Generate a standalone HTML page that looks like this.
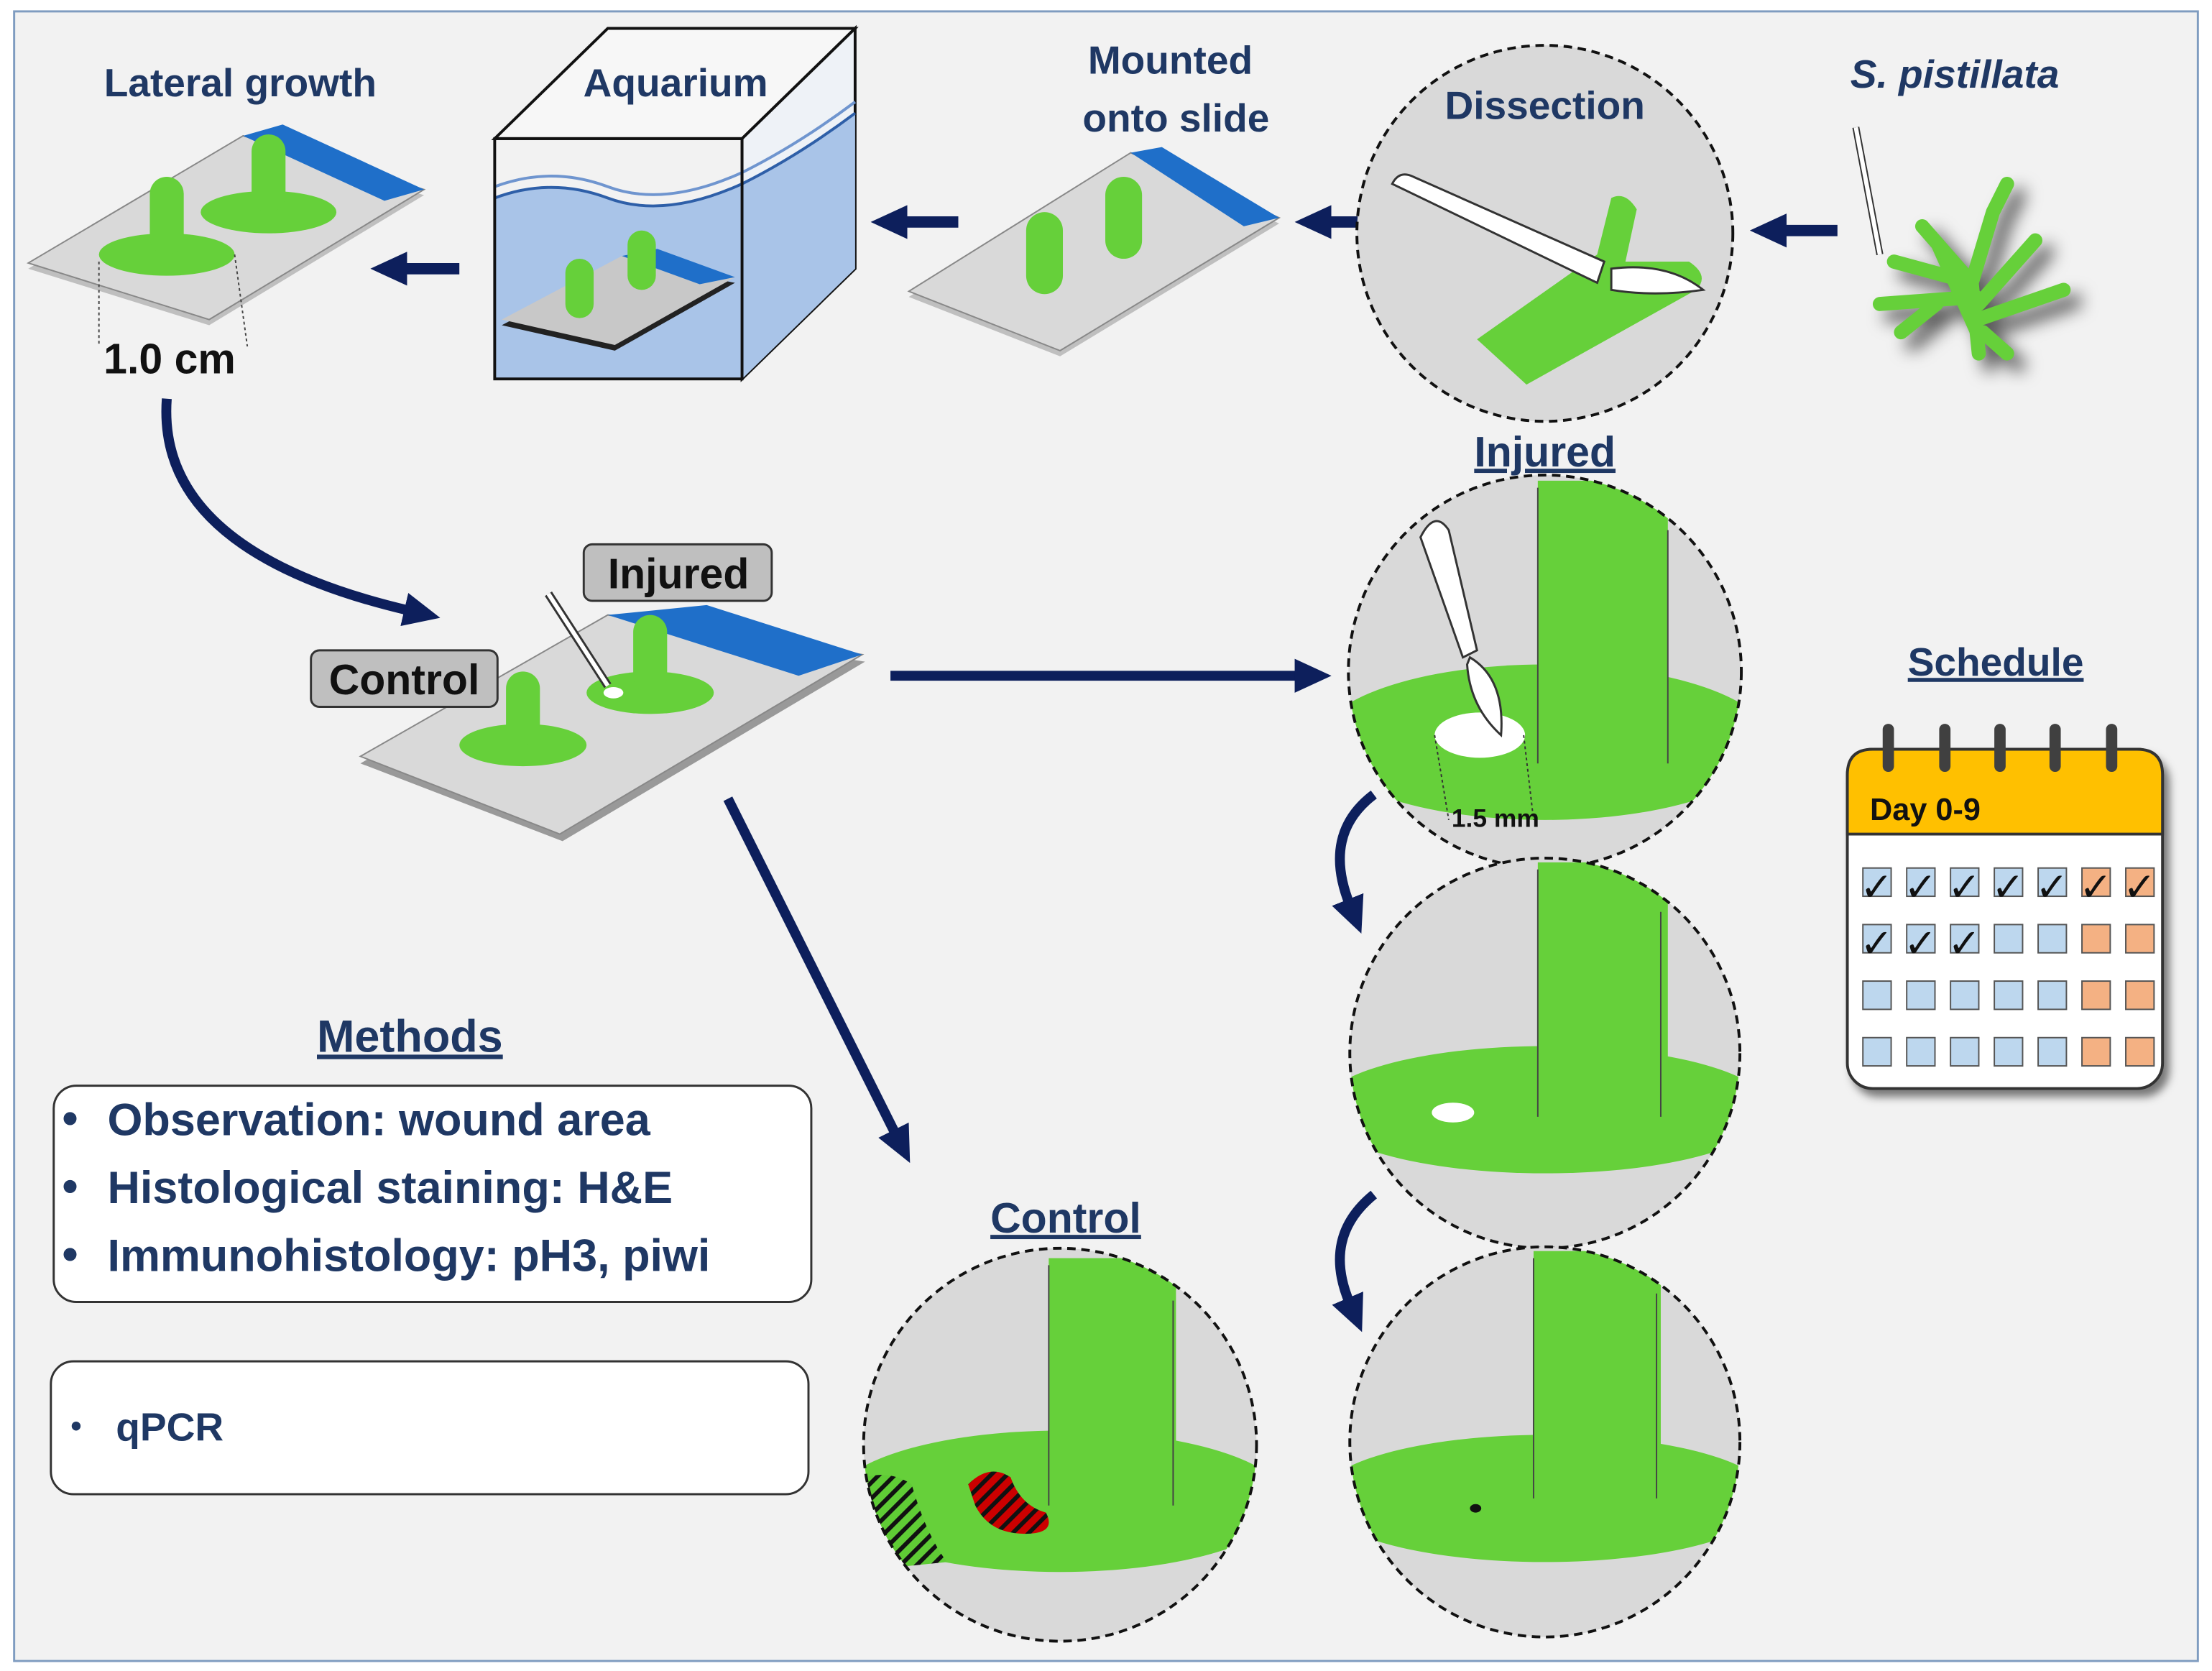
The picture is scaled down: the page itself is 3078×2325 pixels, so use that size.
<!DOCTYPE html>
<html><head><meta charset="utf-8"><style>
html,body{margin:0;padding:0;background:#fff}
svg{display:block}
text{font-family:"Liberation Sans","DejaVu Sans",sans-serif;font-weight:bold}
</style></head><body>
<svg width="3078" height="2325" viewBox="0 0 1565 1182" xmlns="http://www.w3.org/2000/svg">
<defs>
<marker id="ah" markerWidth="26" markerHeight="24" refX="4" refY="12" orient="auto" markerUnits="userSpaceOnUse"><path d="M0,0 L26,12 L0,24 z" fill="#0d1f5c"/></marker>
<clipPath id="c1"><circle cx="1093" cy="475" r="139"/></clipPath>
<clipPath id="c2"><circle cx="1093" cy="745" r="138"/></clipPath>
<clipPath id="c3"><circle cx="1093" cy="1020" r="138"/></clipPath>
<clipPath id="c4"><circle cx="750" cy="1022" r="139"/></clipPath>
<clipPath id="cd"><circle cx="1093" cy="165" r="133"/></clipPath>
<pattern id="hr" width="8" height="8" patternUnits="userSpaceOnUse" patternTransform="rotate(45)"><rect width="8" height="8" fill="#cc0000"/><rect width="3" height="8" fill="#111"/></pattern>
<pattern id="hg" width="8" height="8" patternUnits="userSpaceOnUse" patternTransform="rotate(45)"><rect width="8" height="8" fill="#5fcc35"/><rect width="3" height="8" fill="#111"/></pattern>
</defs>
<rect x="10" y="8" width="1545" height="1167" fill="#f2f2f2" stroke="#7f9cc0" stroke-width="1.5"/>

<!-- Slide 1 -->
<g>
<polygon points="20,190 172,100 300,138 148,230" fill="#bfbfbf"/>
<polygon points="20,186 172,96 300,134 148,226" fill="#d9d9d9" stroke="#888" stroke-width="1"/>
<polygon points="172,96 200,88 300,134 272,142" fill="#1f6fc9"/>
<ellipse cx="118" cy="180" rx="48" ry="15" fill="#66d03a"/>
<rect x="106" y="125" width="24" height="55" rx="12" fill="#66d03a"/>
<ellipse cx="190" cy="150" rx="48" ry="15" fill="#66d03a"/>
<rect x="178" y="95" width="24" height="55" rx="12" fill="#66d03a"/>
<line x1="70" y1="185" x2="70" y2="245" stroke="#444" stroke-dasharray="2,2"/>
<line x1="166" y1="180" x2="175" y2="245" stroke="#444" stroke-dasharray="2,2"/>
</g>
<text x="170" y="68" font-size="28" fill="#1f3864" text-anchor="middle">Lateral growth</text>
<text x="120" y="264" font-size="30" fill="#111" text-anchor="middle">1.0 cm</text>
<line x1="325" y1="190" x2="284" y2="190" stroke="#0d1f5c" stroke-width="8" marker-end="url(#ah)"/>

<!-- Aquarium -->
<polygon points="350,98 430,20 605,20 525,98" fill="#f7f7f7" stroke="#111" stroke-width="2"/>
<polygon points="525,98 605,20 605,190 525,268" fill="#eef2f7" stroke="#111" stroke-width="2"/>
<path d="M350,140 Q390,125 430,140 T525,130 Q565,110 605,80 L605,190 L525,268 L350,268 Z" fill="#a9c4e8"/>
<path d="M350,140 Q390,125 430,140 T525,130 Q565,110 605,80" fill="none" stroke="#2e5fa8" stroke-width="2"/>
<path d="M350,132 Q390,117 430,132 T525,122 Q565,102 605,72" fill="none" stroke="#6f95cf" stroke-width="2"/>
<polygon points="355,230 440,185 520,200 435,248" fill="#222"/>
<polygon points="355,226 440,181 520,196 435,244" fill="#c8c8c8"/>
<polygon points="440,181 465,176 520,196 495,201" fill="#1f6fc9"/>
<rect x="400" y="183" width="20" height="42" rx="10" fill="#66d03a"/>
<rect x="444" y="163" width="20" height="42" rx="10" fill="#66d03a"/>
<rect x="350" y="98" width="175" height="170" fill="none" stroke="#111" stroke-width="2"/>
<text x="478" y="68" font-size="28" fill="#1f3864" text-anchor="middle">Aquarium</text>
<line x1="678" y1="157" x2="638" y2="157" stroke="#0d1f5c" stroke-width="8" marker-end="url(#ah)"/>

<!-- Slide 2 -->
<polygon points="643,210 800,112 905,158 750,252" fill="#bfbfbf"/>
<polygon points="643,206 800,108 905,154 750,248" fill="#d9d9d9" stroke="#888"/>
<polygon points="800,108 822,104 905,154 880,160" fill="#1f6fc9"/>
<rect x="726" y="150" width="26" height="58" rx="13" fill="#66d03a"/>
<rect x="782" y="125" width="26" height="58" rx="13" fill="#66d03a"/>
<text x="828" y="52" font-size="28" fill="#1f3864" text-anchor="middle">Mounted</text>
<text x="832" y="93" font-size="28" fill="#1f3864" text-anchor="middle">onto slide</text>
<line x1="978" y1="157" x2="938" y2="157" stroke="#0d1f5c" stroke-width="8" marker-end="url(#ah)"/>

<!-- Dissection -->
<circle cx="1093" cy="165" r="133" fill="#d9d9d9"/>
<g clip-path="url(#cd)">
<path d="M1045,240 L1130,180 L1140,140 Q1150,135 1158,148 L1150,185 L1195,185 Q1210,195 1200,205 L1080,272 Z" fill="#66d03a"/>
<path d="M985,130 Q990,120 1000,125 L1135,185 L1130,200 Z" fill="#fff" stroke="#333" stroke-width="1.5"/>
<path d="M1140,190 Q1180,185 1205,205 Q1170,210 1140,205 Z" fill="#fff" stroke="#333" stroke-width="1.5"/>
</g>
<circle cx="1093" cy="165" r="133" fill="none" stroke="#111" stroke-width="2" stroke-dasharray="6,4"/>
<text x="1093" y="84" font-size="28" fill="#1f3864" text-anchor="middle">Dissection</text>
<line x1="1300" y1="163" x2="1260" y2="163" stroke="#0d1f5c" stroke-width="8" marker-end="url(#ah)"/>

<!-- S. pistillata -->
<text x="1383" y="62" font-size="28" fill="#1f3864" text-anchor="middle" font-style="italic">S. pistillata</text>
<g fill="#66d03a" stroke="#66d03a" stroke-width="10" stroke-linecap="round" style="filter:drop-shadow(8px 8px 6px #555)">
<path d="M1400,250 L1395,200 L1360,160 M1395,200 L1340,185 M1398,210 L1330,215 M1395,200 L1410,150 M1400,215 L1440,170 M1402,225 L1460,205 M1403,235 L1420,250 M1370,215 L1345,235 M1410,150 L1420,130"/>
</g>
<path d="M1313,90 L1330,180" stroke="#333" stroke-width="5"/>
<path d="M1313,90 L1330,180" stroke="#fff" stroke-width="3"/>

<!-- curved arrow -->
<path d="M118,282 Q110,390 290,432" fill="none" stroke="#0d1f5c" stroke-width="7" marker-end="url(#ah)"/>

<!-- Slide 3 -->
<polygon points="255,540 430,440 612,468 398,595" fill="#999"/>
<polygon points="255,535 430,435 610,463 396,590" fill="#d9d9d9" stroke="#888"/>
<polygon points="430,435 500,428 610,463 565,478" fill="#1f6fc9"/>
<ellipse cx="370" cy="527" rx="45" ry="15" fill="#66d03a"/>
<rect x="358" y="475" width="24" height="52" rx="12" fill="#66d03a"/>
<ellipse cx="460" cy="490" rx="45" ry="15" fill="#66d03a"/>
<rect x="448" y="435" width="24" height="55" rx="12" fill="#66d03a"/>
<ellipse cx="434" cy="490" rx="7" ry="4" fill="#fff"/>
<path d="M388,420 L430,485" stroke="#333" stroke-width="6"/>
<path d="M388,420 L430,485" stroke="#fff" stroke-width="3"/>
<rect x="220" y="460" width="132" height="40" rx="6" fill="#bfbfbf" stroke="#333" stroke-width="1.5"/>
<text x="286" y="491" font-size="30" fill="#111" text-anchor="middle">Control</text>
<rect x="413" y="385" width="133" height="40" rx="6" fill="#bfbfbf" stroke="#333" stroke-width="1.5"/>
<text x="480" y="416" font-size="30" fill="#111" text-anchor="middle">Injured</text>

<line x1="630" y1="478" x2="920" y2="478" stroke="#0d1f5c" stroke-width="7" marker-end="url(#ah)"/>
<line x1="515" y1="565" x2="634" y2="803" stroke="#0d1f5c" stroke-width="7" marker-end="url(#ah)"/>

<!-- Injured circles -->
<text x="1093" y="330" font-size="30" fill="#1f3864" text-anchor="middle" text-decoration="underline">Injured</text>
<g clip-path="url(#c1)">
<rect x="950" y="330" width="290" height="290" fill="#d9d9d9"/>
<ellipse cx="1093" cy="525" rx="160" ry="55" fill="#66d03a"/>
<rect x="1088" y="340" width="92" height="200" fill="#66d03a"/>
<line x1="1088" y1="345" x2="1088" y2="540" stroke="#444"/>
<line x1="1180" y1="375" x2="1180" y2="540" stroke="#444"/>
<ellipse cx="1047" cy="520" rx="32" ry="16" fill="#fff"/>
<path d="M1005,380 Q1015,360 1025,375 L1045,460 L1035,465 Z" fill="#fff" stroke="#333" stroke-width="1.5"/>
<path d="M1040,465 Q1065,480 1062,520 Q1040,500 1038,470 Z" fill="#fff" stroke="#333" stroke-width="1.5"/>
<line x1="1015" y1="520" x2="1025" y2="580" stroke="#333" stroke-dasharray="2,2"/>
<line x1="1078" y1="520" x2="1085" y2="580" stroke="#333" stroke-dasharray="2,2"/>
</g>
<circle cx="1093" cy="475" r="139" fill="none" stroke="#111" stroke-width="2" stroke-dasharray="6,4"/>
<text x="1058" y="585" font-size="18" fill="#111" text-anchor="middle">1.5 mm</text>

<g clip-path="url(#c2)">
<rect x="950" y="600" width="290" height="290" fill="#d9d9d9"/>
<ellipse cx="1093" cy="785" rx="160" ry="45" fill="#66d03a"/>
<rect x="1088" y="610" width="92" height="180" fill="#66d03a"/>
<line x1="1088" y1="615" x2="1088" y2="790" stroke="#444"/>
<line x1="1175" y1="645" x2="1175" y2="790" stroke="#444"/>
<ellipse cx="1028" cy="787" rx="15" ry="7" fill="#fff"/>
</g>
<circle cx="1093" cy="745" r="138" fill="none" stroke="#111" stroke-width="2" stroke-dasharray="6,4"/>

<g clip-path="url(#c3)">
<rect x="950" y="880" width="290" height="290" fill="#d9d9d9"/>
<ellipse cx="1093" cy="1060" rx="160" ry="45" fill="#66d03a"/>
<rect x="1085" y="885" width="90" height="180" fill="#66d03a"/>
<line x1="1085" y1="890" x2="1085" y2="1060" stroke="#444"/>
<line x1="1172" y1="915" x2="1172" y2="1060" stroke="#444"/>
<ellipse cx="1044" cy="1067" rx="4" ry="3" fill="#111"/>
</g>
<circle cx="1093" cy="1020" r="138" fill="none" stroke="#111" stroke-width="2" stroke-dasharray="6,4"/>

<path d="M972,562 Q935,590 955,640" fill="none" stroke="#0d1f5c" stroke-width="7" marker-end="url(#ah)"/>
<path d="M972,845 Q935,875 955,922" fill="none" stroke="#0d1f5c" stroke-width="7" marker-end="url(#ah)"/>

<!-- Control circle -->
<text x="754" y="872" font-size="30" fill="#1f3864" text-anchor="middle" text-decoration="underline">Control</text>
<g clip-path="url(#c4)">
<rect x="600" y="880" width="300" height="290" fill="#d9d9d9"/>
<ellipse cx="750" cy="1062" rx="160" ry="50" fill="#66d03a"/>
<rect x="742" y="890" width="90" height="180" fill="#66d03a"/>
<line x1="742" y1="895" x2="742" y2="1065" stroke="#444"/>
<line x1="830" y1="920" x2="830" y2="1065" stroke="#444"/>
<path d="M685,1050 Q700,1035 715,1045 Q722,1065 740,1070 Q748,1085 725,1085 Q700,1085 690,1065 Z" fill="url(#hr)"/>
<path d="M612,1045 Q630,1040 645,1050 Q655,1085 670,1105 L620,1110 Z" fill="url(#hg)"/>
</g>
<circle cx="750" cy="1022" r="139" fill="none" stroke="#111" stroke-width="2" stroke-dasharray="6,4"/>

<!-- Schedule -->
<text x="1412" y="478" font-size="28" fill="#1f3864" text-anchor="middle" text-decoration="underline">Schedule</text>
<g style="filter:drop-shadow(4px 5px 3px #777)">
<rect x="1307" y="530" width="223" height="240" rx="18" fill="#fff" stroke="#333" stroke-width="2"/>
</g>
<path d="M1307,590 L1307,548 Q1307,530 1325,530 L1512,530 Q1530,530 1530,548 L1530,590 Z" fill="#ffc000" stroke="#333" stroke-width="2"/>
<g fill="#404040">
<rect x="1332" y="512" width="8" height="34" rx="4"/><rect x="1372" y="512" width="8" height="34" rx="4"/>
<rect x="1411" y="512" width="8" height="34" rx="4"/><rect x="1450" y="512" width="8" height="34" rx="4"/>
<rect x="1490" y="512" width="8" height="34" rx="4"/>
</g>
<text x="1323" y="580" font-size="22" fill="#111">Day 0-9</text>
<g stroke="#555" stroke-width="1">
<g fill="#bdd7ee">
<rect x="1318" y="614" width="20" height="20"/><rect x="1349" y="614" width="20" height="20"/><rect x="1380" y="614" width="20" height="20"/><rect x="1411" y="614" width="20" height="20"/><rect x="1442" y="614" width="20" height="20"/>
<rect x="1318" y="654" width="20" height="20"/><rect x="1349" y="654" width="20" height="20"/><rect x="1380" y="654" width="20" height="20"/><rect x="1411" y="654" width="20" height="20"/><rect x="1442" y="654" width="20" height="20"/>
<rect x="1318" y="694" width="20" height="20"/><rect x="1349" y="694" width="20" height="20"/><rect x="1380" y="694" width="20" height="20"/><rect x="1411" y="694" width="20" height="20"/><rect x="1442" y="694" width="20" height="20"/>
<rect x="1318" y="734" width="20" height="20"/><rect x="1349" y="734" width="20" height="20"/><rect x="1380" y="734" width="20" height="20"/><rect x="1411" y="734" width="20" height="20"/><rect x="1442" y="734" width="20" height="20"/>
</g>
<g fill="#f4b183">
<rect x="1473" y="614" width="20" height="20"/><rect x="1504" y="614" width="20" height="20"/>
<rect x="1473" y="654" width="20" height="20"/><rect x="1504" y="654" width="20" height="20"/>
<rect x="1473" y="694" width="20" height="20"/><rect x="1504" y="694" width="20" height="20"/>
<rect x="1473" y="734" width="20" height="20"/><rect x="1504" y="734" width="20" height="20"/>
</g>
</g>
<g font-size="28" fill="#111" font-family="DejaVu Sans">
<text x="1316" y="637">✓</text><text x="1347" y="637">✓</text><text x="1378" y="637">✓</text><text x="1409" y="637">✓</text><text x="1440" y="637">✓</text><text x="1471" y="637">✓</text><text x="1502" y="637">✓</text>
<text x="1316" y="677">✓</text><text x="1347" y="677">✓</text><text x="1378" y="677">✓</text>
</g>

<!-- Methods -->
<text x="290" y="744" font-size="32" fill="#1f3864" text-anchor="middle" text-decoration="underline">Methods</text>
<rect x="38" y="768" width="536" height="153" rx="16" fill="#fff" stroke="#333" stroke-width="1.5"/>
<g font-size="32" fill="#1f3864">
<text x="44" y="802">•</text><text x="76" y="803">Observation: wound area</text>
<text x="44" y="850">•</text><text x="76" y="851">Histological staining: H&amp;E</text>
<text x="44" y="898">•</text><text x="76" y="899">Immunohistology: pH3, piwi</text>
</g>
<rect x="36" y="963" width="536" height="94" rx="16" fill="#fff" stroke="#333" stroke-width="1.5"/>
<text x="50" y="1016" font-size="22" fill="#1f3864">•</text>
<text x="82" y="1019" font-size="28" fill="#1f3864">qPCR</text>
</svg>
</body></html>
